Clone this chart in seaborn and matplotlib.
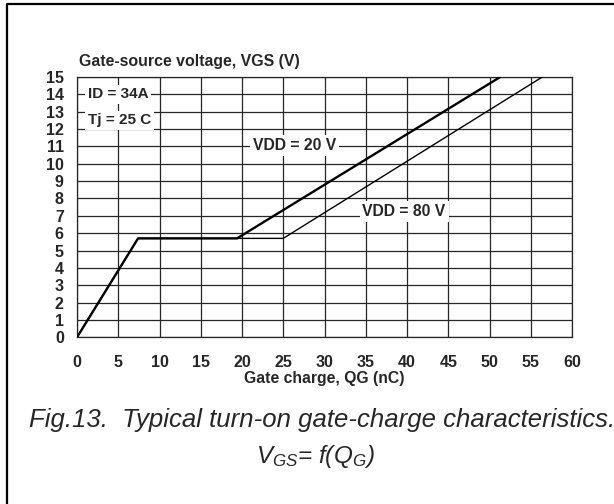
import pandas as pd
import matplotlib
matplotlib.use("Agg")
import matplotlib.pyplot as plt
from matplotlib.lines import Line2D
import seaborn as sns

# gate charge curves
qg_vdd20 = [0, 7.4, 19.4, 51.3]
vgs_vdd20 = [0, 5.7, 5.7, 15]
qg_vdd80 = [0, 7.4, 25.0, 56.4]
vgs_vdd80 = [0, 5.7, 5.7, 15]

x_ticks = list(range(0, 61, 5))
y_ticks = list(range(0, 16))

sns.set_style("white")
plt.rcParams['font.family'] = ['Liberation Sans', 'DejaVu Sans']
plt.rcParams['mathtext.fontset'] = 'custom'
plt.rcParams['mathtext.rm'] = 'Liberation Sans:italic'
plt.rcParams['mathtext.it'] = 'Liberation Sans:italic'

df20 = pd.DataFrame({"qg": qg_vdd20, "vgs": vgs_vdd20})
df80 = pd.DataFrame({"qg": qg_vdd80, "vgs": vgs_vdd80})

fig = plt.figure(figsize=(6.14, 5.04), dpi=100)
ax = fig.add_axes([77 / 614, 1 - 337.3 / 504, 495 / 614, 260.3 / 504])

grid_c = '0.15'
ax.set_axisbelow(True)
ax.grid(True, color=grid_c, lw=0.9)

sns.lineplot(data=df80, x="qg", y="vgs", sort=False, color='black', lw=1.0, ax=ax, zorder=3)
sns.lineplot(data=df20, x="qg", y="vgs", sort=False, color='black', lw=1.7, ax=ax, zorder=4)

ax.set_xlim(0, 60)
ax.set_ylim(0, 15)
ax.set_xticks(x_ticks)
ax.set_yticks(y_ticks)
ax.tick_params(axis='both', direction='out', length=3.5, width=0.9, color=grid_c,
               labelsize=11.5)
ax.tick_params(axis='x', pad=9)
ax.tick_params(axis='y', pad=6)
for lab in ax.get_xticklabels() + ax.get_yticklabels():
    lab.set_fontweight('bold')
for sp in ax.spines.values():
    sp.set_color(grid_c)
    sp.set_linewidth(0.9)

ax.set_xlabel("Gate charge, QG (nC)", fontsize=11.3, fontweight='bold', labelpad=1)
ax.set_ylabel("")
fig.text(79 / 614, 1 - 65.7 / 504, "Gate-source voltage, VGS (V)", fontsize=11.4,
         fontweight='bold', ha='left', va='baseline')

box = dict(facecolor='white', edgecolor='none', pad=2)
ax.text(1.3, 14.0, "ID = 34A", fontsize=11, fontweight='bold', va='center', bbox=box, zorder=5)
ax.text(1.3, 12.5, "Tj = 25 C", fontsize=11, fontweight='bold', va='center', bbox=box, zorder=5)
ax.text(21.3, 11.05, "VDD = 20 V", fontsize=11.3, fontweight='bold', va='center', bbox=box, zorder=5)
ax.text(34.6, 7.25, "VDD = 80 V", fontsize=11.3, fontweight='bold', va='center', bbox=box, zorder=5)

# caption
fig.text(29 / 614, 1 - 426.7 / 504, "Fig.13.  Typical turn-on gate-charge characteristics.",
         fontsize=18.5, style='italic', ha='left', va='baseline')
fig.text(315 / 614, 1 - 463.3 / 504, r"$V_{GS}$= f(Q$_G$)",
         fontsize=17.5, style='italic', ha='center', va='baseline')

# outer frame (left and top only, rest is cropped)
fig.add_artist(Line2D([7 / 614, 7 / 614, 1], [0, 1 - 4.3 / 504, 1 - 4.3 / 504],
                      color='black', lw=1.6, transform=fig.transFigure))

fig.savefig("out.png", dpi=100)
